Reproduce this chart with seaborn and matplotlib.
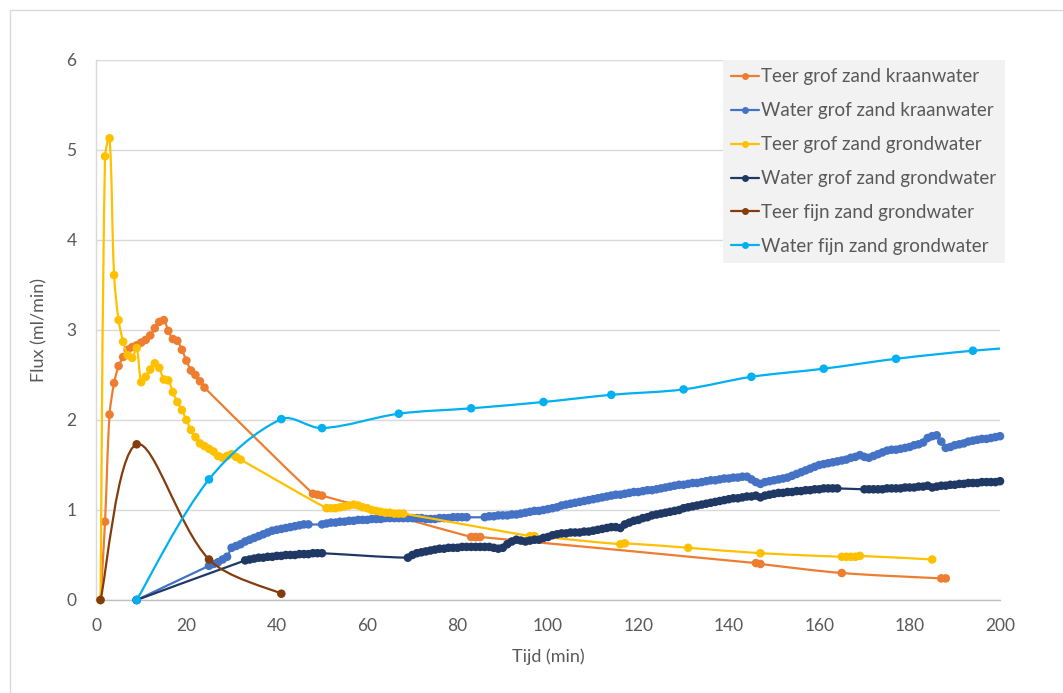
import numpy as np
import matplotlib
matplotlib.use("Agg")
import matplotlib.pyplot as plt
from matplotlib.path import Path
from matplotlib.patches import PathPatch, Rectangle
from matplotlib.lines import Line2D
import seaborn as sns

# ---------------------------------------------------------------- data
# Teer grof zand kraanwater
teer_grof_kraan_t = list(range(1, 25)) + [48, 49, 50, 83, 84, 85, 146, 147, 165, 187, 188]
teer_grof_kraan_y = [0.00, 0.87, 2.06, 2.41, 2.60, 2.70, 2.78, 2.81, 2.83, 2.86, 2.89, 2.94,
                     3.02, 3.09, 3.11, 2.99, 2.90, 2.88, 2.78, 2.66, 2.55, 2.50, 2.43, 2.36,
                     1.18, 1.17, 1.16, 0.70, 0.70, 0.70, 0.41, 0.40, 0.30, 0.24, 0.24]

# Water grof zand kraanwater
water_grof_kraan_t = [9] + list(range(25, 48)) + list(range(50, 83)) + list(range(86, 201))
water_grof_kraan_y = [0.00,
    # 25-47
    0.38, 0.40, 0.42, 0.45, 0.48, 0.58, 0.60, 0.62, 0.65, 0.67, 0.69, 0.71, 0.73, 0.75,
    0.77, 0.78, 0.79, 0.80, 0.81, 0.82, 0.83, 0.84, 0.84,
    # 50-82
    0.84, 0.85, 0.86, 0.86, 0.87, 0.87, 0.88, 0.88, 0.89, 0.89, 0.89, 0.90, 0.90, 0.90,
    0.91, 0.91, 0.91, 0.91, 0.91, 0.91, 0.91, 0.91, 0.91, 0.90, 0.90, 0.90, 0.91, 0.91,
    0.91, 0.92, 0.92, 0.92, 0.92,
    # 86-200
    0.92, 0.93, 0.93, 0.94, 0.94, 0.94, 0.95, 0.95, 0.96, 0.97, 0.98, 0.99, 0.99, 1.00,
    1.01, 1.02, 1.03, 1.05, 1.06, 1.07, 1.08, 1.09, 1.10, 1.11, 1.12, 1.13, 1.14, 1.15,
    1.16, 1.17, 1.17, 1.18, 1.19, 1.20, 1.20, 1.21, 1.22, 1.22, 1.23, 1.24, 1.25, 1.26,
    1.27, 1.28, 1.28, 1.29, 1.30, 1.30, 1.31, 1.32, 1.33, 1.33, 1.34, 1.35, 1.35, 1.36,
    1.36, 1.37, 1.37, 1.34, 1.31, 1.29, 1.31, 1.32, 1.33, 1.34, 1.35, 1.36, 1.38, 1.40,
    1.42, 1.44, 1.46, 1.48, 1.50, 1.51, 1.52, 1.53, 1.54, 1.55, 1.56, 1.58, 1.59, 1.61,
    1.59, 1.58, 1.60, 1.62, 1.64, 1.66, 1.67, 1.67, 1.68, 1.69, 1.70, 1.72, 1.73, 1.75,
    1.80, 1.82, 1.83, 1.76, 1.69, 1.70, 1.72, 1.73, 1.74, 1.76, 1.77, 1.78, 1.79, 1.79,
    1.80, 1.81, 1.82]

# Teer grof zand grondwater
teer_grof_grond_t = (list(range(1, 33)) + list(range(51, 69))
                     + [96, 97, 116, 117, 131, 147, 165, 166, 167, 168, 169, 185])
teer_grof_grond_y = [0.00, 4.93, 5.13, 3.61, 3.11, 2.87, 2.72, 2.69, 2.80, 2.42, 2.48, 2.56,
                     2.63, 2.58, 2.45, 2.44, 2.31, 2.20, 2.11, 2.00, 1.89, 1.81, 1.74, 1.71,
                     1.68, 1.65, 1.60, 1.58, 1.60, 1.62, 1.59, 1.56,
                     1.02, 1.02, 1.02, 1.03, 1.04, 1.05, 1.06, 1.05, 1.03, 1.02, 1.00, 0.99,
                     0.98, 0.97, 0.97, 0.96, 0.96, 0.96,
                     0.71, 0.71, 0.62, 0.63, 0.58, 0.52, 0.48, 0.48, 0.48, 0.48, 0.49, 0.45]

# Water grof zand grondwater
water_grof_grond_t = [9] + list(range(33, 51)) + list(range(69, 165)) + list(range(170, 201))
water_grof_grond_y = [0.00,
    # 33-50
    0.44, 0.45, 0.46, 0.47, 0.47, 0.48, 0.48, 0.49, 0.49, 0.50, 0.50, 0.50, 0.51, 0.51,
    0.51, 0.52, 0.52, 0.52,
    # 69-164
    0.47, 0.50, 0.52, 0.53, 0.54, 0.55, 0.56, 0.57, 0.57, 0.58, 0.58, 0.58, 0.59, 0.59,
    0.59, 0.59, 0.59, 0.59, 0.59, 0.58, 0.57, 0.58, 0.62, 0.65, 0.67, 0.66, 0.65, 0.66,
    0.67, 0.67, 0.69, 0.70, 0.72, 0.73, 0.74, 0.74, 0.75, 0.75, 0.75, 0.76, 0.76, 0.77,
    0.78, 0.79, 0.80, 0.81, 0.81, 0.80, 0.84, 0.86, 0.88, 0.89, 0.91, 0.92, 0.94, 0.95,
    0.96, 0.97, 0.98, 0.99, 1.00, 1.02, 1.03, 1.04, 1.05, 1.06, 1.07, 1.08, 1.09, 1.10,
    1.11, 1.12, 1.13, 1.13, 1.14, 1.15, 1.15, 1.16, 1.14, 1.16, 1.17, 1.18, 1.19, 1.19,
    1.20, 1.20, 1.21, 1.21, 1.22, 1.22, 1.23, 1.23, 1.24, 1.24, 1.24, 1.24,
    # 170-200
    1.23, 1.23, 1.23, 1.23, 1.23, 1.24, 1.24, 1.24, 1.24, 1.25, 1.25, 1.25, 1.26, 1.26,
    1.27, 1.25, 1.26, 1.27, 1.27, 1.28, 1.28, 1.29, 1.29, 1.30, 1.30, 1.30, 1.31, 1.31,
    1.31, 1.31, 1.32]

# Teer fijn zand grondwater
teer_fijn_grond_t = [1, 9, 25, 41]
teer_fijn_grond_y = [0.00, 1.73, 0.45, 0.07]

# Water fijn zand grondwater
water_fijn_grond_t = [9, 25, 41, 50, 67, 83, 99, 114, 130, 145, 161, 177, 194, 210]
water_fijn_grond_y = [0.00, 1.34, 2.01, 1.91, 2.07, 2.13, 2.20, 2.28, 2.34, 2.48, 2.57,
                      2.68, 2.77, 2.83]

labels = ["Teer grof zand kraanwater", "Water grof zand kraanwater",
          "Teer grof zand grondwater", "Water grof zand grondwater",
          "Teer fijn zand grondwater", "Water fijn zand grondwater"]
colors = ["#ED7D31", "#4472C4", "#FFC000", "#203864", "#843C0C", "#00B0F0"]
series = [(teer_grof_kraan_t, teer_grof_kraan_y),
          (water_grof_kraan_t, water_grof_kraan_y),
          (teer_grof_grond_t, teer_grof_grond_y),
          (water_grof_grond_t, water_grof_grond_y),
          (teer_fijn_grond_t, teer_fijn_grond_y),
          (water_fijn_grond_t, water_fijn_grond_y)]
for t, y in series:
    if len(t) != len(y):
        raise ValueError(f"length mismatch {len(t)} vs {len(y)}")

x_ticks = [0, 20, 40, 60, 80, 100, 120, 140, 160, 180, 200]
y_ticks = [0, 1, 2, 3, 4, 5, 6]

# ---------------------------------------------------------------- layout
W, H = 1063, 693
AX_L, AX_B, AX_W, AX_H = 96, 93, 904, 540
X_MAX, Y_MAX = 200, 6


def smooth_path(x, y):
    """Smoothed line through the points as cubic Bezier segments.

    Tangents follow the neighbouring points; their lengths are weighted by
    the on-screen length of the adjacent segments so short hops next to long
    jumps do not overshoot.
    """
    sx, sy = AX_W / X_MAX, AX_H / Y_MAX
    p = np.column_stack([np.asarray(x, float) * sx, np.asarray(y, float) * sy])
    n = len(p)
    c_out = np.zeros_like(p)
    c_in = np.zeros_like(p)
    for i in range(n):
        if i == 0:
            c_out[i] = p[i] + (p[i + 1] - p[i]) / 6.0
            continue
        if i == n - 1:
            c_in[i] = p[i] - (p[i] - p[i - 1]) / 6.0
            continue
        tang = p[i + 1] - p[i - 1]
        d0 = np.hypot(*(p[i] - p[i - 1]))
        d1 = np.hypot(*(p[i + 1] - p[i]))
        tot = d0 + d1 if d0 + d1 > 0 else 1.0
        c_out[i] = p[i] + tang * (d1 / tot) / 3.0
        c_in[i] = p[i] - tang * (d0 / tot) / 3.0
    verts, codes = [p[0]], [Path.MOVETO]
    for i in range(n - 1):
        verts += [c_out[i], c_in[i + 1], p[i + 1]]
        codes += [Path.CURVE4] * 3
    verts = np.array(verts) / np.array([sx, sy])
    return Path(verts, codes)


# ---------------------------------------------------------------- figure
sns.set_theme(style="white")
plt.rcParams["font.family"] = ["Lato", "DejaVu Sans"]

fig = plt.figure(figsize=(W / 100, H / 100), dpi=100)
fig.patch.set_facecolor("white")
ax = fig.add_axes([AX_L / W, AX_B / H, AX_W / W, AX_H / H])

# outer chart border
fig.add_artist(Rectangle((9.5 / W, -0.2), 1.5, (H - 9.5) / H + 0.2,
                         transform=fig.transFigure, fill=False,
                         ec="#D9D9D9", lw=1.0, zorder=0))

marker_clip = Rectangle((-0.006, -0.012), 1.012, 1.024, transform=ax.transAxes)

for k, ((t, y), c, lab) in enumerate(zip(series, colors, labels)):
    patch = PathPatch(smooth_path(t, y), fill=False, ec=c, lw=1.6,
                      zorder=3 + 2 * k, capstyle="round", joinstyle="round")
    ax.add_patch(patch)
    sns.scatterplot(x=t, y=y, color=c, s=38, edgecolor="none", linewidth=0,
                    ax=ax, zorder=4 + 2 * k, legend=False)
    ax.collections[-1].set_clip_path(marker_clip)

ax.set_xlim(0, X_MAX)
ax.set_ylim(0, Y_MAX)
ax.set_xticks(x_ticks)
ax.set_yticks(y_ticks)
ax.yaxis.grid(True, color="#D9D9D9", lw=1.0)
ax.xaxis.grid(False)
ax.set_axisbelow(True)
for side in ["top", "right"]:
    ax.spines[side].set_visible(False)
ax.spines["left"].set_color("#D9D9D9")
ax.spines["bottom"].set_color("#BFBFBF")
ax.spines["left"].set_linewidth(1.0)
ax.spines["bottom"].set_linewidth(1.0)
ax.tick_params(axis="both", length=0, labelsize=12.5, colors="#595959")
ax.tick_params(axis="y", pad=14)
ax.tick_params(axis="x", pad=13)

ax.set_xlabel("Tijd (min)", fontsize=13, color="#595959", labelpad=10)
ax.set_ylabel("Flux (ml/min)", fontsize=13, color="#595959", labelpad=14)

handles = [Line2D([0], [0], color=c, lw=1.6, marker="o", markersize=5,
                  markeredgewidth=0) for c in colors]
leg = ax.legend(handles, labels, loc="upper right", bbox_to_anchor=(1.0055, 1.0),
                borderaxespad=0, frameon=True, fancybox=False, fontsize=13.5,
                handlelength=1.45, handletextpad=0.15, labelspacing=0.9,
                borderpad=0.45, labelcolor="#595959")
leg.get_frame().set_facecolor("#F2F2F2")
leg.get_frame().set_edgecolor("none")
leg.get_frame().set_alpha(1)
leg.set_zorder(30)

fig.savefig("out.png", dpi=100, facecolor="white")
